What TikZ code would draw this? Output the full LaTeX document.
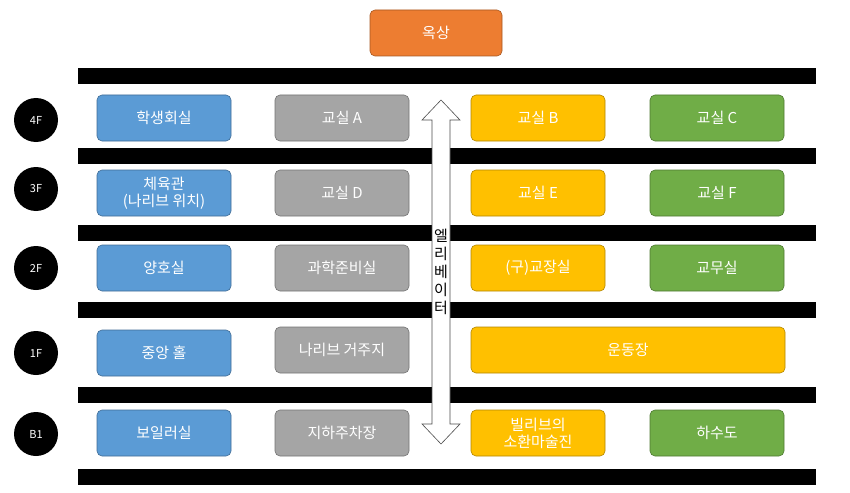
\documentclass[tikz,border=0pt]{standalone}
\usepackage{fontspec}
\setmainfont{Noto Sans CJK KR}
\definecolor{cb}{HTML}{5B9BD5}\definecolor{cg}{HTML}{A5A5A5}
\definecolor{cy}{HTML}{FFC000}\definecolor{cgr}{HTML}{70AD47}\definecolor{co}{HTML}{ED7D31}
\begin{document}
\begin{tikzpicture}[x=1pt,y=-1pt,
 room/.style={draw=#1!70!black,fill=#1,rounded corners=5pt,text=white,font=\fontsize{15}{17}\selectfont,align=center,minimum width=134pt,minimum height=46pt,line width=0.6pt},
 fl/.style={circle,fill=black,text=white,minimum size=44pt,inner sep=0pt,font=\fontsize{11}{12}\selectfont}]
\useasboundingbox (0,0) rectangle (850,492);
\node[room=co,minimum width=132pt] (roof) at (436,33) {옥상};
\foreach \y in {68,148,225,302,387,469}{\fill (78,\y) rectangle (816,\y+16);}
\node[fl] (f4) at (36,120) {4F};
\node[fl] (f3) at (36,189) {3F};
\node[fl] (f2) at (36,268) {2F};
\node[fl] (f1) at (36,353) {1F};
\node[fl] (fb) at (36,434) {B1};
\node[room=cb] (a1) at (164,118) {학생회실};
\node[room=cg] (a2) at (342,118) {교실 A};
\node[room=cy] (a3) at (538,118) {교실 B};
\node[room=cgr] (a4) at (717,118) {교실 C};
\node[room=cb] (b1) at (164,193) {체육관\\(나리브 위치)};
\node[room=cg] (b2) at (342,193) {교실 D};
\node[room=cy] (b3) at (538,193) {교실 E};
\node[room=cgr] (b4) at (717,193) {교실 F};
\node[room=cb] (c1) at (164,268) {양호실};
\node[room=cg] (c2) at (342,268) {과학준비실};
\node[room=cy] (c3) at (538,268) {(구)교장실};
\node[room=cgr] (c4) at (717,268) {교무실};
\node[room=cb] (d1) at (164,353) {중앙 홀};
\node[room=cg] (d2) at (342,350) {나리브 거주지};
\node[room=cy,minimum width=314pt] (d3) at (628,350) {운동장};
\node[room=cb] (e1) at (164,433) {보일러실};
\node[room=cg] (e2) at (342,433) {지하주차장};
\node[room=cy] (e3) at (538,433) {빌리브의\\소환마술진};
\node[room=cgr] (e4) at (717,433) {하수도};
\draw[fill=white,line width=0.6pt,draw=black!70] (441,100) -- (460,120) -- (450,120) -- (450,424) -- (460,424) -- (441,444) -- (422,424) -- (432,424) -- (432,120) -- (422,120) -- cycle;
\node[fill=white,inner sep=1pt,align=center,font=\fontsize{15}{18}\selectfont] (elt) at (441,272) {엘\\리\\베\\이\\터};
\end{tikzpicture}
\end{document}
